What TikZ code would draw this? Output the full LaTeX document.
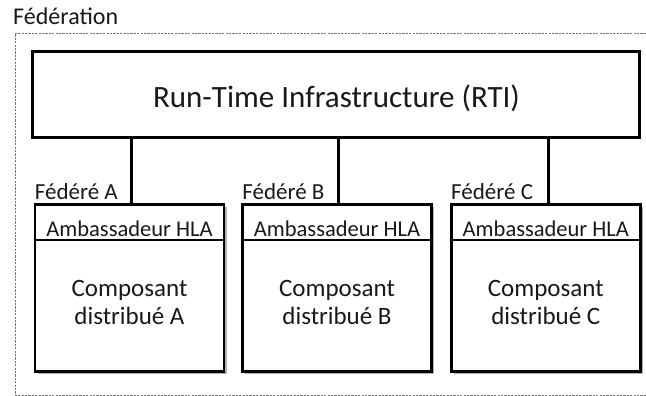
\documentclass[tikz,border=0pt]{standalone}
\usepackage{fontspec}
\setmainfont{Carlito}
\usetikzlibrary{shadows}
\begin{document}
\begin{tikzpicture}[x=1pt,y=-1pt,
  frame/.style={draw=black!55,line width=0.8pt,dash pattern=on 2.2pt off 1.2pt},
  rtibox/.style={draw,line width=3pt,fill=white,minimum width=607pt,minimum height=85pt,inner sep=0pt},
  fedbox/.style={draw,line width=2.6pt,fill=white,minimum width=189pt,minimum height=167pt,inner sep=0pt,
     drop shadow={shadow xshift=2.5pt,shadow yshift=-2.5pt,opacity=0.3,fill=black}},
  rtitext/.style={font=\fontsize{31}{36}\selectfont,anchor=base,inner sep=0pt,text=black!90},
  header/.style={font=\fontsize{22.5}{26}\selectfont,anchor=base,inner sep=0pt,text=black!90},
  body/.style={font=\fontsize{25}{28.5}\selectfont,align=center,anchor=base,inner sep=0pt,text=black!90},
  fedlabel/.style={font=\fontsize{23}{27}\selectfont,anchor=base west,inner sep=0pt,text=black!90},
  link/.style={line width=3pt}]
\useasboundingbox (0,0) rectangle (646,396);
% Federation frame (right side beyond the picture)
\node[font=\fontsize{24}{28}\selectfont,anchor=base west,inner sep=0pt,text=black!90] (fedtitle) at (13,25) {Fédération};
\draw[frame] (646,33) -- (15,33) -- (15,395) -- (646,395);
% RTI
\node[rtibox] (rti) at (335.5,94.5) {};
\node[rtitext] (rtit) at (336.5,108) {Run-Time Infrastructure (RTI)};
% Federates
\foreach \n/\cx/\lx in {A/129.5/131,B/337/338.3,C/545.8/548.7}{
  \node[fedbox] (box\n) at (\cx,287.8) {};
  \draw[line width=1.3pt] ([yshift=-37pt]box\n.north west) -- ([yshift=-37pt]box\n.north east);
  \node[header] (amb\n) at ([yshift=-33pt]box\n.north) {Ambassadeur HLA};
  \node[body] (comp\n) at ([yshift=-93pt]box\n.north) {Composant};
  \node[body] (dist\n) at ([yshift=-121pt]box\n.north) {distribué \n};
  \coordinate (c\n) at (\lx,204);
  \node[fedlabel] (lab\n) at ([xshift=1pt,yshift=4pt]box\n.north west) {Fédéré \n};
  \draw[link] (rti.south -| c\n) -- (c\n);
}
\end{tikzpicture}
\end{document}
